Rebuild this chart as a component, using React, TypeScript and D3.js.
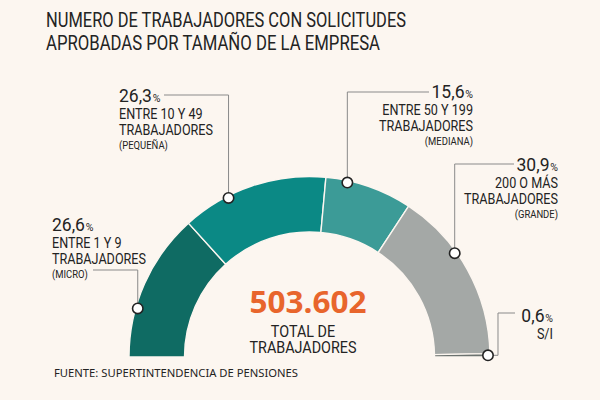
import { useEffect, useRef } from 'react';
import * as d3 from 'd3';

// segments, left to right around the half donut
const categories = ['MICRO', 'PEQUEÑA', 'MEDIANA', 'GRANDE', 'S/I'];
const shares = [26.6, 26.3, 15.6, 30.9, 0.6];
const shareLabels = ['26,6', '26,3', '15,6', '30,9', '0,6'];
const descLines = [
  ['ENTRE 1 Y 9', 'TRABAJADORES'],
  ['ENTRE 10 Y 49', 'TRABAJADORES'],
  ['ENTRE 50 Y 199', 'TRABAJADORES'],
  ['200 O MÁS', 'TRABAJADORES'],
  ['S/I'],
];
const sizeNotes = ['(MICRO)', '(PEQUEÑA)', '(MEDIANA)', '(GRANDE)', ''];
// where the callout dot sits inside each segment (0 = start, 1 = end)
const anchorAt = [0.33, 0.32, 0.25, 0.38, 0.5];
const totalLabel = '503.602';
const totalLines = ['TOTAL DE', 'TRABAJADORES'];
const titleLines = ['NUMERO DE TRABAJADORES CON SOLICITUDES', 'APROBADAS POR TAMAÑO DE LA EMPRESA'];
const sourceText = 'FUENTE: SUPERTINTENDENCIA DE PENSIONES';

const colors = ['#0f6b63', '#0b8985', '#3c9b97', '#a4a8a6', '#6b726f'];

// label placement: x, baseline of the first description line, anchor, leader y, leader end x
const labelLayout = [
  { x: 52, y: 248, anchor: 'start', lineY: 270, lineX: 93 },
  { x: 119, y: 119, anchor: 'start', lineY: 95, lineX: 164 },
  { x: 473, y: 115, anchor: 'end', lineY: 92, lineX: 429 },
  { x: 558, y: 188, anchor: 'end', lineY: 164, lineX: 514 },
  { x: 553, y: 339, anchor: 'end', lineY: 313, lineX: 515 },
];

const FONT = 'Roboto, sans-serif';
const INK = '#232323';
const BG = '#fcf6f0';
const SQUEEZE = 0.87;

type TextSel = d3.Selection<SVGTextElement, unknown, null, undefined>;

// narrow a text element to mimic the condensed face of the original
function squeeze(t: TextSel, k = SQUEEZE): number {
  const node = t.node();
  if (!node) return 0;
  const len = node.getComputedTextLength() * k;
  t.attr('textLength', len).attr('lengthAdjust', 'spacingAndGlyphs');
  return len;
}

function HalfDonut() {
  const svgRef = useRef<SVGSVGElement | null>(null);

  useEffect(() => {
    if (!svgRef.current) return;
    const svg = d3.select(svgRef.current);
    svg.selectAll('*').remove();

    const width = 600;
    const height = 400;
    const cx = 309.5;
    const cy = 357;
    const outer = 180.5;
    const inner = 125;

    svg.attr('viewBox', `0 0 ${width} ${height}`);
    svg.append('rect').attr('width', width).attr('height', height).attr('fill', BG);

    // title
    titleLines.forEach((line, i) => {
      svg
        .append('text')
        .attr('x', 46)
        .attr('y', 27 + i * 23)
        .attr('font-family', FONT)
        .attr('font-size', 21)
        .attr('fill', INK)
        .attr('textLength', i === 0 ? 360 : 334)
        .attr('lengthAdjust', 'spacingAndGlyphs')
        .text(line);
    });

    const data = categories.map((c, i) => ({ name: c, value: shares[i], i }));
    const pieGen = d3
      .pie<{ name: string; value: number; i: number }>()
      .sort(null)
      .value((d) => d.value)
      .startAngle(-Math.PI / 2)
      .endAngle(Math.PI / 2);
    const arcs = pieGen(data);
    const arcGen = d3
      .arc<d3.PieArcDatum<{ name: string; value: number; i: number }>>()
      .innerRadius(inner)
      .outerRadius(outer);

    const g = svg.append('g').attr('transform', `translate(${cx},${cy})`);
    g.selectAll('path')
      .data(arcs)
      .join('path')
      .attr('d', (d) => arcGen(d) ?? '')
      .attr('fill', (d) => colors[d.data.i])
      .attr('stroke', BG)
      .attr('stroke-width', 1.4);

    const addText = (x: number, y: number, size: number, anchor: string, s: string): TextSel =>
      svg
        .append('text')
        .attr('x', x)
        .attr('y', y)
        .attr('font-family', FONT)
        .attr('font-size', size)
        .attr('fill', INK)
        .attr('text-anchor', anchor)
        .text(s) as unknown as TextSel;

    // callouts
    arcs.forEach((a, i) => {
      const ang = a.startAngle + (a.endAngle - a.startAngle) * anchorAt[i];
      const rr = outer - 2;
      const dx = cx + Math.sin(ang) * rr;
      const dy = cy - Math.cos(ang) * rr;
      const L = labelLayout[i];

      const path =
        i === 4
          ? `M${dx},${dy}H${dx + 10}V${L.lineY}H${L.lineX}`
          : `M${L.lineX},${L.lineY}H${dx}V${dy}`;
      svg
        .append('path')
        .attr('d', path)
        .attr('fill', 'none')
        .attr('stroke', '#8a8a8a')
        .attr('stroke-width', 1);

      svg
        .append('circle')
        .attr('cx', dx)
        .attr('cy', dy)
        .attr('r', 5.2)
        .attr('fill', '#fff')
        .attr('stroke', INK)
        .attr('stroke-width', 1.6);

      // share number with a small percent sign beside it (natural widths, no squeeze)
      const gap = 0.8;
      const sy = L.y - 17;
      if (L.anchor === 'start') {
        const num = addText(L.x, sy, 17.5, 'start', shareLabels[i]);
        const w = num.node()?.getComputedTextLength() ?? 0;
        addText(L.x + w + gap, sy, 10.5, 'start', '%');
      } else {
        const pct = addText(L.x, sy, 10.5, 'end', '%');
        const w = pct.node()?.getComputedTextLength() ?? 0;
        addText(L.x - w - gap, sy, 17.5, 'end', shareLabels[i]);
      }

      descLines[i].forEach((line, k) => {
        squeeze(addText(L.x, L.y + k * 15.5, 14, L.anchor, line), 0.9);
      });
      if (sizeNotes[i]) {
        squeeze(addText(L.x, L.y + descLines[i].length * 15.5 - 1, 10.5, L.anchor, sizeNotes[i]), 0.9);
      }
    });

    // center total
    svg
      .append('text')
      .attr('x', 308)
      .attr('y', 313)
      .attr('text-anchor', 'middle')
      .attr('font-family', "'Open Sans', 'Noto Sans', sans-serif")
      .attr('font-weight', 700)
      .attr('font-size', 31)
      .attr('fill', '#e8652c')
      .attr('textLength', 117)
      .attr('lengthAdjust', 'spacingAndGlyphs')
      .text(totalLabel);
    totalLines.forEach((line, k) => {
      squeeze(addText(303, 337 + k * 15.5, 16.5, 'middle', line));
    });

    // source
    svg
      .append('text')
      .attr('x', 54)
      .attr('y', 377)
      .attr('font-family', "'Noto Sans', 'Open Sans', sans-serif")
      .attr('font-size', 10.5)
      .attr('fill', INK)
      .attr('textLength', 244)
      .attr('lengthAdjust', 'spacingAndGlyphs')
      .text(sourceText);
  }, []);

  return (
    <svg
      ref={svgRef}
      width={600}
      height={400}
      style={{ position: 'absolute', left: 0, top: 0, display: 'block' }}
      role="img"
      aria-label="Half donut chart"
    />
  );
}

export default function App() {
  return <HalfDonut />;
}
